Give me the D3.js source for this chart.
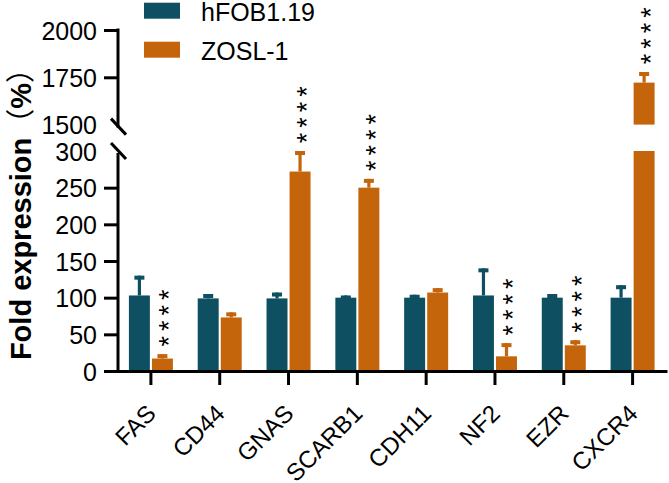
<!DOCTYPE html>
<html>
<head>
<meta charset="utf-8">
<script src="https://cdn.jsdelivr.net/npm/d3@7"></script>
<style>
  html, body { margin: 0; padding: 0; background: #fff; }
  svg { display: block; }
  text { font-family: "Liberation Sans", Arial, sans-serif; fill: #000; }
</style>
</head>
<body>
<svg id="chart" width="669" height="483"></svg>
<script>
// ---- data ----
const categories = ["FAS", "CD44", "GNAS", "SCARB1", "CDH11", "NF2", "EZR", "CXCR4"];
const seriesNames = ["hFOB1.19", "ZOSL-1"];
const hfobMean = [103, 99, 99, 100, 100, 103, 100, 100];
const hfobSD   = [27, 6, 8, 3, 4, 37, 5, 17];
const zoslMean = [17, 73, 272, 250, 107, 20, 35, 1722];
const zoslSD   = [6, 7, 28, 12, 6, 18, 7, 56];
const significance = ["****", "", "****", "****", "", "****", "****", "****"];
const lowTicks = [0, 50, 100, 150, 200, 250, 300];
const highTicks = [1500, 1750, 2000];
const colors = ["#0e4f62", "#c5650b"];

const svg = d3.select("#chart");

// ---- scales ----
const x = d3.scaleBand().domain(categories).range([116.5, 667]);
const x1 = d3.scaleBand().domain(seriesNames).range([-22, 22]).paddingInner(0.09);
const yLow = d3.scaleLinear().domain([0, 300]).range([371, 151]);
const yHigh = d3.scaleLinear().domain([1500, 2000]).range([124.6, 30]);
const yOf = v => v <= 300 ? yLow(v) : yHigh(v);

// ---- bars ----
const rows = categories.map((c, i) => [
  { cat: c, s: seriesNames[0], mean: hfobMean[i], sd: hfobSD[i], col: colors[0], sig: "" },
  { cat: c, s: seriesNames[1], mean: zoslMean[i], sd: zoslSD[i], col: colors[1], sig: significance[i] }
]).flat();

const g = svg.append("g");
rows.forEach(d => {
  const cx = x(d.cat) + x.bandwidth() / 2;
  const bx = cx + x1(d.s);
  const bw = x1.bandwidth();
  const bcx = bx + bw / 2;
  if (d.mean <= 300) {
    g.append("rect").attr("x", bx).attr("y", yLow(d.mean)).attr("width", bw)
      .attr("height", yLow(0) - yLow(d.mean)).attr("fill", d.col);
  } else {
    g.append("rect").attr("x", bx).attr("y", yLow(300)).attr("width", bw)
      .attr("height", yLow(0) - yLow(300)).attr("fill", d.col);
    g.append("rect").attr("x", bx).attr("y", yHigh(d.mean)).attr("width", bw)
      .attr("height", yHigh(1500) - yHigh(d.mean)).attr("fill", d.col);
  }
  // error bar (upper only)
  const top = d.mean + d.sd;
  const yt = yOf(top);
  g.append("rect").attr("x", bcx - 1.6).attr("y", yt).attr("width", 3.2)
    .attr("height", yOf(d.mean) - yt).attr("fill", d.col);
  g.append("rect").attr("x", bcx - 5).attr("y", yt).attr("width", 10)
    .attr("height", 4).attr("fill", d.col);
  // significance stars
  if (d.sig) {
    d.sig.split("").forEach((s, k) => {
      const cy = yt - 13 - k * 15.5;
      g.append("text")
        .attr("transform", `translate(${bcx},${cy}) rotate(-90)`)
        .attr("text-anchor", "middle")
        .attr("dy", "0.58em")
        .style("font-size", "27px")
        .text(s);
    });
  }
});

// ---- axes ----
function styleAxis(sel) {
  sel.selectAll("path, line").attr("stroke", "#000").attr("stroke-width", 3);
  sel.selectAll("text").style("font-size", "25px")
    .style("font-family", '"Liberation Sans", Arial, sans-serif').attr("fill", "#000");
}
const fmt = d3.format("d");

const axLow = svg.append("g").attr("transform", "translate(118,0)")
  .call(d3.axisLeft(yLow).tickValues(lowTicks).tickFormat(fmt).tickSizeInner(14).tickSizeOuter(0).tickPadding(7))
  .call(styleAxis);
axLow.selectAll(".tick").filter(d => d === 300).select("line").remove();
axLow.selectAll("text").attr("dy", "0.36em");

const axHigh = svg.append("g").attr("transform", "translate(118,0)")
  .call(d3.axisLeft(yHigh).tickValues(highTicks).tickFormat(fmt).tickSizeInner(14).tickSizeOuter(0).tickPadding(7))
  .call(styleAxis);
axHigh.selectAll(".tick").filter(d => d === 1500).select("line").remove();
axHigh.selectAll("text").attr("dy", "0.36em");
axHigh.select(".domain").attr("d", `M0,${yHigh(2000) - 1.5}V${yHigh(1500) + 3}`);
axLow.select(".domain").attr("d", `M0,${yLow(300) + 2}V${yLow(0) + 1.5}`);

// axis break slashes
[yHigh(1500) + 2, yLow(300)].forEach(yy => {
  svg.append("line").attr("x1", 118 - 7).attr("y1", yy - 8)
    .attr("x2", 118 + 8).attr("y2", yy + 8)
    .attr("stroke", "#000").attr("stroke-width", 3);
});

const axX = svg.append("g").attr("transform", `translate(0,${yLow(0)})`)
  .call(d3.axisBottom(x).tickSizeInner(14).tickSizeOuter(0))
  .call(styleAxis);
axX.selectAll("text")
  .attr("y", null).attr("dy", null).attr("x", null)
  .attr("text-anchor", "end")
  .attr("transform", "translate(6.5,44) rotate(-45)")
  .style("font-size", "24px");

// ---- y title ----
const title = svg.append("text")
  .attr("transform", "translate(31,207) rotate(-90)")
  .attr("text-anchor", "middle")
  .style("font-size", "29px")
  .style("font-weight", "bold");
title.append("tspan").text("Fold expression");
title.append("tspan").style("font-family", '"Noto Sans CJK SC", sans-serif').style("font-weight", "normal").text("（");
title.append("tspan").text("%");
title.append("tspan").style("font-family", '"Noto Sans CJK SC", sans-serif').style("font-weight", "normal").text("）");

// ---- legend ----
const leg = svg.append("g");
seriesNames.forEach((s, i) => {
  const yy = 2.7 + i * 39;
  leg.append("rect").attr("x", 144).attr("y", yy).attr("width", 36).attr("height", 16)
    .attr("fill", colors[i]);
  leg.append("text").attr("x", 201).attr("y", yy + 18.5)
    .style("font-size", "25px").text(s);
});
</script>
</body>
</html>
